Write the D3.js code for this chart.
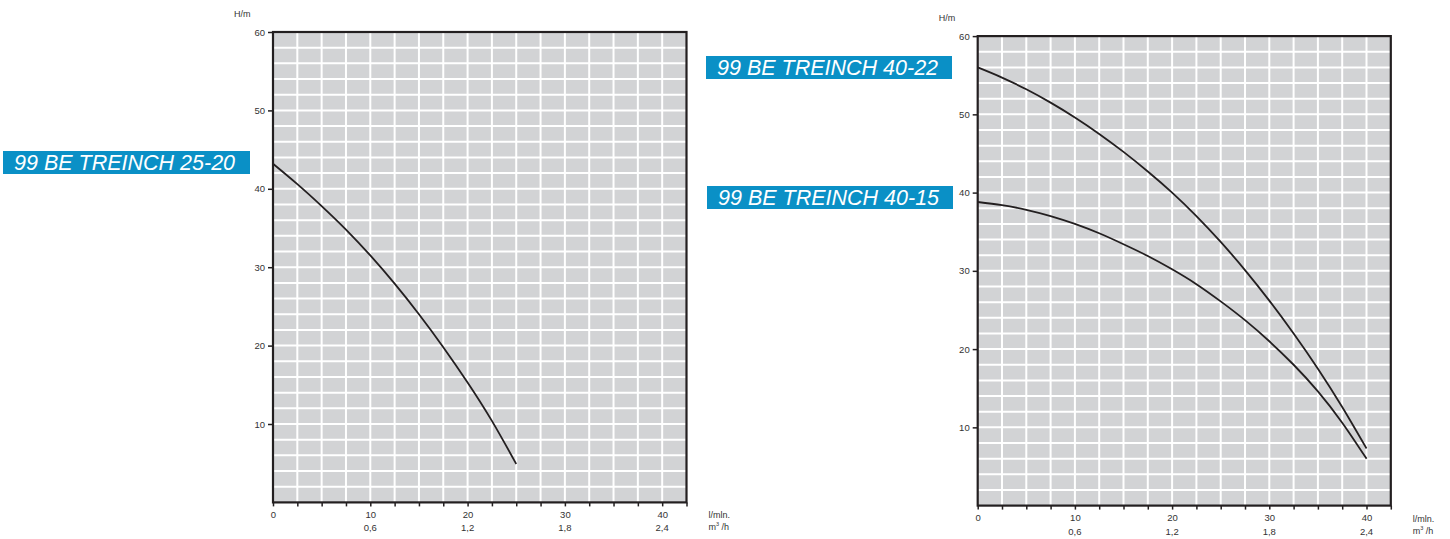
<!DOCTYPE html>
<html>
<head>
<meta charset="utf-8">
<script src="https://cdn.jsdelivr.net/npm/d3@7"></script>
<style>
  body { margin: 0; background: #fff; }
  svg { display: block; font-family: "Liberation Sans", Arial, sans-serif; }
</style>
</head>
<body>
<div id="chart"></div>
<script>
// flow in l/min, head in m
const flowA = [0, 2.5, 5, 7.5, 10, 12.5, 15, 17.5, 20, 22.5, 25];
const head2520 = [43.2, 40.6, 37.8, 34.8, 31.5, 27.9, 24.0, 19.8, 15.3, 10.4, 4.9];

const flowB = [0, 2.5, 5, 7.5, 10, 12.5, 15, 17.5, 20, 22.5, 25, 27.5, 30, 32.5, 35, 37.5, 40];
const head4022 = [56.0, 54.7, 53.2, 51.5, 49.6, 47.5, 45.2, 42.7, 40.0, 37.0, 33.7, 30.1, 26.2, 22.0, 17.5, 12.6, 7.3];
const head4015 = [38.8, 38.4, 37.8, 37.0, 36.0, 34.8, 33.4, 31.9, 30.2, 28.3, 26.1, 23.7, 21.0, 18.0, 14.6, 10.6, 6.0];

const yTicks = [10, 20, 30, 40, 50, 60];
const xLabels = ["0", "10", "20", "30", "40"];
const m3hLabels = ["", "0,6", "1,2", "1,8", "2,4"];

const w = 1450;
const h = 539;
const gridFill = "#d2d3d5";
const ink = "#231f20";
const blue = "#0a90c6";

const svg = d3.select("#chart")
  .append("svg")
  .attr("width", w)
  .attr("height", h);

const drawChart = function(left, top, right, bottom, curves) {
  const x = d3.scaleLinear().domain([0, 42.5]).range([left, right]);
  const y = d3.scaleLinear().domain([0, 60]).range([bottom, top]);
  const g = svg.append("g");

  g.append("rect")
    .attr("x", left).attr("y", top)
    .attr("width", right - left).attr("height", bottom - top)
    .attr("fill", gridFill);

  // white grid: every 2.5 l/min and every 2 m
  g.selectAll(".vg").data(d3.range(2.5, 42.5, 2.5)).enter()
    .append("line")
    .attr("x1", d => x(d)).attr("x2", d => x(d))
    .attr("y1", top).attr("y2", bottom)
    .attr("stroke", "#fff").attr("stroke-width", 2);
  g.selectAll(".hg").data(d3.range(2, 60, 2)).enter()
    .append("line")
    .attr("y1", d => y(d)).attr("y2", d => y(d))
    .attr("x1", left).attr("x2", right)
    .attr("stroke", "#fff").attr("stroke-width", 2);

  const line = d3.line()
    .x(d => x(d[0]))
    .y(d => y(d[1]))
    .curve(d3.curveNatural);

  curves.forEach(function(c) {
    g.append("path")
      .datum(d3.zip(c.flow, c.head))
      .attr("d", line)
      .attr("fill", "none")
      .attr("stroke", ink)
      .attr("stroke-width", 1.8);
  });

  g.append("rect")
    .attr("x", left).attr("y", top)
    .attr("width", right - left).attr("height", bottom - top)
    .attr("fill", "none")
    .attr("stroke", ink).attr("stroke-width", 2.2);

  const yAxis = g.append("g")
    .attr("transform", "translate(" + left + ",0)")
    .call(d3.axisLeft(y).tickValues(yTicks).tickSize(5).tickPadding(3));
  yAxis.select(".domain").remove();
  yAxis.selectAll("line").attr("stroke", ink).attr("stroke-width", 1.5);
  yAxis.selectAll("text").attr("font-size", 9.5).attr("fill", "#333")
    .attr("font-family", "Liberation Sans, Arial, sans-serif");

  const xAxis = g.append("g")
    .attr("transform", "translate(0," + bottom + ")")
    .call(d3.axisBottom(x).tickValues(d3.range(0, 42.6, 2.5)).tickSize(4).tickPadding(5)
      .tickFormat(d => d % 10 === 0 ? xLabels[d / 10] : ""));
  xAxis.select(".domain").remove();
  xAxis.selectAll("line").attr("stroke", ink).attr("stroke-width", 1.5);
  xAxis.selectAll("text").attr("font-size", 9.5).attr("fill", "#333")
    .attr("font-family", "Liberation Sans, Arial, sans-serif");

  g.selectAll(".m3").data(m3hLabels).enter()
    .append("text")
    .attr("x", (d, i) => x(i * 10))
    .attr("y", bottom + 29)
    .attr("text-anchor", "middle")
    .attr("font-size", 9.5).attr("fill", "#333")
    .text(d => d);

  g.append("text")
    .attr("x", left - 39).attr("y", top - 15)
    .attr("font-size", 9).attr("fill", "#333")
    .text("H/m");

  g.append("text")
    .attr("x", right + 22).attr("y", bottom + 16)
    .attr("font-size", 9).attr("fill", "#333")
    .text("l/mln.");
  const u = g.append("text")
    .attr("x", right + 22).attr("y", bottom + 28)
    .attr("font-size", 9).attr("fill", "#333");
  u.append("tspan").text("m");
  u.append("tspan").attr("font-size", 5.5).attr("dy", -4).text("3");
  u.append("tspan").attr("dy", 4).text(" /h");
};

const drawLabel = function(x0, y0, x1, y1, txt) {
  svg.append("rect")
    .attr("x", x0).attr("y", y0)
    .attr("width", x1 - x0).attr("height", y1 - y0)
    .attr("fill", blue);
  svg.append("text")
    .attr("x", x0 + 11).attr("y", y1 - 4.5)
    .attr("font-size", 21.5)
    .attr("font-style", "italic")
    .attr("fill", "#fff")
    .text(txt);
};

drawChart(273, 32, 686.5, 502.4, [{ flow: flowA, head: head2520 }]);
drawChart(977.7, 36.1, 1390.8, 505.6, [
  { flow: flowB, head: head4022 },
  { flow: flowB, head: head4015 }
]);

drawLabel(3, 151, 250, 174, "99 BE TREINCH 25-20");
drawLabel(706, 56, 952, 79, "99 BE TREINCH 40-22");
drawLabel(707, 186, 953, 209, "99 BE TREINCH 40-15");
</script>
</body>
</html>
